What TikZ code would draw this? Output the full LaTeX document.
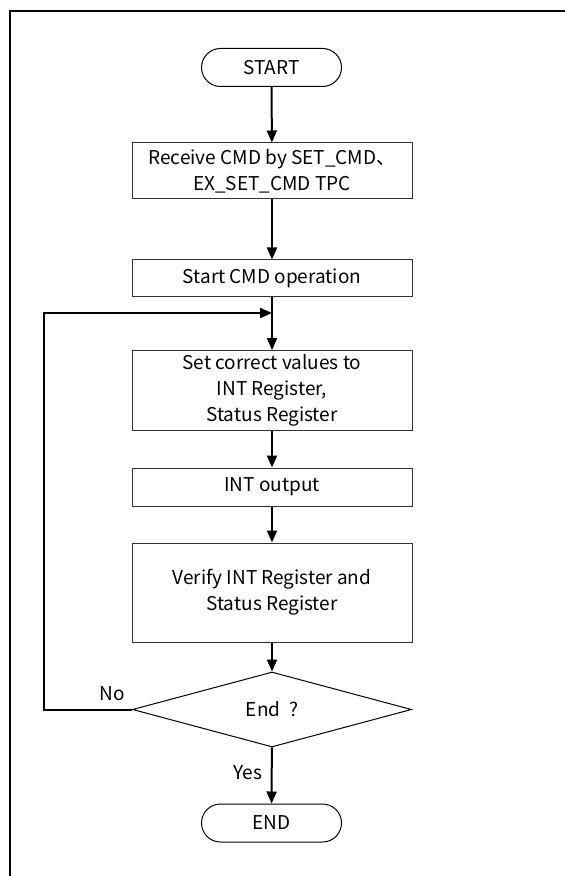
\documentclass[tikz,border=0pt]{standalone}
\usepackage{fontspec}
\setmainfont{Noto Sans CJK JP}
\usetikzlibrary{arrows.meta,shapes.geometric,positioning}
\tikzset{
  chart/.style={
    x=0.5pt,
    y=-0.5pt,
    font=\fontsize{9.5}{13}\selectfont
  },
  proc/.style={
    draw=black!80,
    line width=0.5pt,
    rectangle,
    align=center,
    minimum width=140pt,
    inner sep=2pt
  },
  terminal/.style={
    draw=black,
    line width=0.5pt,
    rounded corners=9.5pt,
    minimum width=70pt,
    minimum height=19pt,
    inner sep=0pt
  },
  decide/.style={
    draw=black,
    line width=0.5pt,
    diamond,
    minimum width=139.5pt,
    minimum height=37.5pt,
    inner sep=0pt
  },
  flow/.style={
    line width=1pt,
    -{Triangle[length=6pt,width=5pt]}
  },
  frame/.style={line width=1pt}
}

\begin{document}
\begin{tikzpicture}[chart]
  \useasboundingbox (0,0) rectangle (565,876);
  \draw[frame] (10,876) |- (565,11);

  \node[terminal] (start) at (271.5,67.5) {START};
  \node[proc, minimum height=28pt] (rcvcmd) at (272,171)
    {Receive CMD by SET\_CMD、\\EX\_SET\_CMD TPC};
  \node[proc, minimum height=18.5pt] (startop) at (272,278.5)
    {Start CMD operation};
  \node[proc, minimum height=39.5pt] (setreg) at (272,390.5)
    {Set correct values to\\INT Register,\\Status Register};
  \node[proc, minimum height=19pt] (intout) at (272,487) {INT output};
  \node[proc, minimum height=49.5pt] (verify) at (272,592.5)
    {Verify INT Register and\\Status Register};
  \node[decide] (endq) at (272,709.5) {End \ ?};
  \node[terminal] (finish) at (271.5,823) {END};

  \coordinate (merge) at (272,313);
  \coordinate (back) at (44,313);

  \draw[flow] (start) -- (rcvcmd);
  \draw[flow] (rcvcmd) -- (startop);
  \draw[flow] (startop) -- (setreg);
  \draw[flow] (setreg) -- (intout);
  \draw[flow] (intout) -- (verify);
  \draw[flow] (verify) -- (endq);
  \draw[flow] (endq) -- (finish)
    node[pos=0.45, left=1pt] (yes) {Yes};
  \draw[flow] (endq.west) -| (back) -- (merge);
  \node[above left=1pt and 0pt of endq.west] (no) {No};
\end{tikzpicture}
\end{document}
